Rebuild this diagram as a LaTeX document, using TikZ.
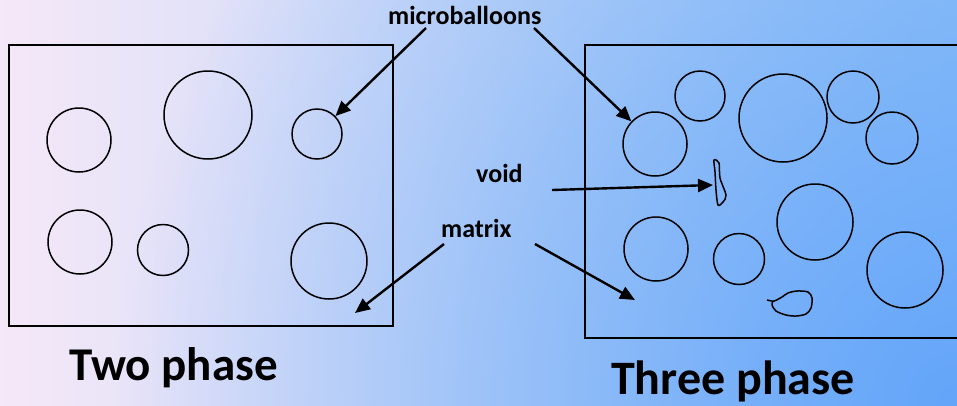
\documentclass[tikz,border=0pt]{standalone}
\usepackage{fontspec}
\setmainfont{Carlito}
\usetikzlibrary{arrows.meta,fadings}
\definecolor{bgL}{RGB}{245,232,248}
\definecolor{bgM}{RGB}{168,207,242}
\definecolor{bgR}{RGB}{160,204,247}
\definecolor{bgD}{RGB}{100,165,250}
\tikzfading[name=cornerfade, inner color=transparent!0, outer color=transparent!100]
\tikzset{
  bub/.style={circle, draw, line width=1.5pt, inner sep=0pt},
  boxline/.style={draw, line width=1.8pt},
  arr/.style={line width=2.4pt, -{Triangle[length=15pt,width=13pt]}},
  lbl/.style={font=\bfseries\fontsize{26}{26}\selectfont, inner sep=0pt, anchor=base west},
  big/.style={font=\bfseries\fontsize{47}{47}\selectfont, inner sep=0pt, anchor=base west},
}
\begin{document}
\begin{tikzpicture}[x=1pt,y=-1pt]
\useasboundingbox (0,0) rectangle (957,405);
\shade[left color=bgL, middle color=bgM, right color=bgR] (0,0) rectangle (957,405);
\begin{scope}
\clip (0,0) rectangle (957,405);
\fill[bgD, path fading=cornerfade, fit fading=true] (117,-435) rectangle (1797,1245);
% left box
\draw[boxline] (9,45) rectangle (393,326);
% right box
\draw[boxline] (960,45) -- (585,45) -- (585,338) -- (960,338);
\end{scope}
% left circles
\node[bub, minimum size=64pt] (l1) at (79,140) {};
\node[bub, minimum size=88pt] (l2) at (208,115) {};
\node[bub, minimum size=50pt] (l3) at (317,134) {};
\node[bub, minimum size=64pt] (l4) at (80,242) {};
\node[bub, minimum size=51pt] (l5) at (163,250) {};
\node[bub, minimum size=76pt] (l6) at (329,261) {};
% right circles
\node[bub, minimum size=50pt] (r1) at (700,96) {};
\node[bub, minimum size=88pt] (r2) at (783,118) {};
\node[bub, minimum size=52pt] (r3) at (853,97) {};
\node[bub, minimum size=52pt] (r4) at (892,138) {};
\node[bub, minimum size=64pt] (r5) at (655,144) {};
\node[bub, minimum size=76pt] (r6) at (815,222) {};
\node[bub, minimum size=64pt] (r7) at (656,249) {};
\node[bub, minimum size=51pt] (r8) at (739,259) {};
\node[bub, minimum size=76pt] (r9) at (905,270) {};
% void
\draw[line width=1.5pt] plot[smooth cycle, tension=0.5] coordinates {(714,160) (719,163) (720,178) (726,195) (723,202) (718,205) (716,190) (715,172)};
\draw[line width=1.5pt] plot[smooth, tension=0.5] coordinates {(767,300) (774,301) (782,297) (788,293) (797,291) (808,292) (812,298) (811,308) (806,314) (796,316) (786,315) (776,311) (772,305) (773,301)};
% labels
\node[lbl] (mb) at (388,24) {microballoons};
\node[lbl] (vd) at (476,182) {void};
\node[lbl] (mx) at (441,237) {matrix};
\node[big] (two) at (69,380) {Two phase};
\node[big, font=\bfseries\fontsize{48}{48}\selectfont] (three) at (611,394) {Three phase};
% arrow anchors
\coordinate (mbA) at (426,28);
\coordinate (mbB) at (534,28);
\coordinate (vdA) at (552,190);
\coordinate (vdT) at (713,185);
\coordinate (mxA) at (444,244);
\coordinate (mxT) at (355,313);
\coordinate (mxB) at (535,244);
\coordinate (mxU) at (635,300);
\draw[arr] (mbA) -- (l3);
\draw[arr] (mbB) -- (r5);
\draw[arr] (vdA) -- (vdT);
\draw[arr] (mxA) -- (mxT);
\draw[arr] (mxB) -- (mxU);
\end{tikzpicture}
\end{document}
